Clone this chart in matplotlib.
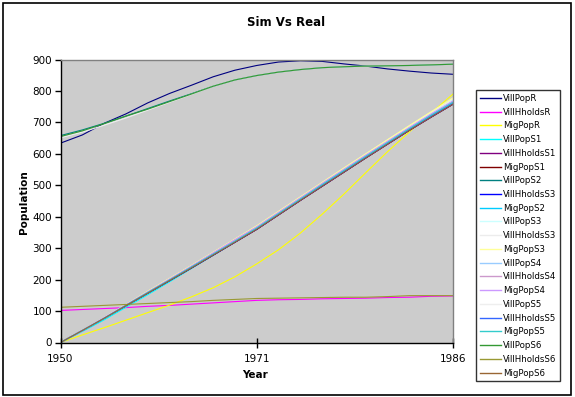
import numpy as np
import matplotlib
matplotlib.use("Agg")
import matplotlib.pyplot as plt
from matplotlib.patches import Rectangle

# Category labels shown on the x axis (first, middle, last)
tick_labels = ["1950", "1971", "1986"]

# Real data
vill_pop_r = [634, 660, 697, 727, 762, 792, 818, 845, 866, 881, 892, 896, 894, 886, 879, 870, 863, 857, 853]
vill_hholds_r = [102, 105, 108, 111, 115, 118, 122, 126, 130, 134, 136, 137, 139, 140, 141, 143, 144, 147, 148]
mig_pop_r = [0, 24, 47, 71, 95, 119, 145, 174, 209, 250, 295, 348, 408, 472, 540, 607, 670, 730, 790]

# Simulated runs
vill_pop_s1 = [0, 35, 72, 112, 152, 193, 235, 277, 319, 361, 407, 454, 500, 546, 591, 636, 680, 723, 765]
vill_hholds_s1 = [0, 38, 77, 117, 157, 197, 237, 278, 319, 360, 406, 452, 497, 542, 587, 631, 675, 717, 758]
mig_pop_s1 = [0, 38, 77, 117, 157, 197, 237, 278, 319, 360, 406, 452, 497, 542, 587, 631, 675, 717, 758]
vill_pop_s2 = [658, 676, 697, 720, 744, 768, 791, 815, 835, 849, 860, 868, 874, 877, 879, 880, 881, 883, 885]
vill_hholds_s2 = [0, 38, 77, 117, 157, 197, 237, 278, 319, 360, 406, 452, 497, 542, 587, 631, 675, 717, 758]
mig_pop_s2 = [0, 37, 76, 117, 158, 199, 240, 282, 324, 365, 411, 457, 503, 548, 593, 638, 682, 725, 768]
vill_pop_s3 = [0, 38, 78, 120, 161, 202, 243, 285, 327, 369, 415, 461, 507, 552, 597, 642, 686, 729, 771]
vill_hholds_s3 = [0, 38, 79, 120, 162, 203, 244, 286, 328, 370, 416, 462, 508, 554, 599, 644, 688, 732, 775]
mig_pop_s3 = [0, 38, 79, 121, 163, 204, 245, 287, 329, 371, 417, 463, 509, 555, 600, 645, 690, 734, 778]
vill_pop_s4 = [0, 38, 78, 119, 160, 200, 241, 283, 324, 366, 412, 458, 503, 548, 593, 637, 681, 724, 765]
vill_hholds_s4 = [0, 38, 78, 119, 160, 201, 242, 284, 326, 367, 413, 459, 505, 550, 595, 639, 683, 726, 767]
mig_pop_s4 = [0, 38, 79, 120, 161, 202, 243, 285, 327, 368, 414, 460, 506, 551, 596, 640, 684, 727, 768]
vill_pop_s5 = [651, 669, 691, 714, 739, 764, 789, 815, 835, 849, 860, 868, 874, 877, 879, 880, 881, 883, 885]
vill_hholds_s5 = [0, 38, 77, 118, 158, 198, 239, 280, 321, 362, 408, 454, 500, 545, 590, 634, 678, 721, 762]
mig_pop_s5 = [0, 38, 77, 118, 159, 199, 240, 281, 322, 364, 410, 456, 502, 547, 592, 636, 680, 723, 764]
vill_pop_s6 = [655, 673, 696, 720, 742, 766, 790, 815, 835, 849, 860, 868, 874, 877, 879, 880, 881, 883, 885]
vill_hholds_s6 = [112, 115, 118, 121, 124, 127, 130, 134, 137, 140, 141, 142, 143, 144, 144, 146, 149, 149, 149]
mig_pop_s6 = [0, 38, 77, 117, 157, 197, 237, 278, 319, 360, 406, 452, 497, 542, 587, 631, 675, 717, 758]

series = [
    ("VillPopR", vill_pop_r, "#000080"),
    ("VillHholdsR", vill_hholds_r, "#ff00ff"),
    ("MigPopR", mig_pop_r, "#ffff00"),
    ("VillPopS1", vill_pop_s1, "#00ffff"),
    ("VillHholdsS1", vill_hholds_s1, "#800080"),
    ("MigPopS1", mig_pop_s1, "#800000"),
    ("VillPopS2", vill_pop_s2, "#008080"),
    ("VillHholdsS3", vill_hholds_s2, "#0000ff"),
    ("MigPopS2", mig_pop_s2, "#00ccff"),
    ("VillPopS3", vill_pop_s3, "#ccffff"),
    ("VillHholdsS3", vill_hholds_s3, "#ececec"),
    ("MigPopS3", mig_pop_s3, "#ffff99"),
    ("VillPopS4", vill_pop_s4, "#99ccff"),
    ("VillHholdsS4", vill_hholds_s4, "#cc99cc"),
    ("MigPopS4", mig_pop_s4, "#cc99ff"),
    ("VillPopS5", vill_pop_s5, "#eeeeee"),
    ("VillHholdsS5", vill_hholds_s5, "#3366ff"),
    ("MigPopS5", mig_pop_s5, "#33cccc"),
    ("VillPopS6", vill_pop_s6, "#339933"),
    ("VillHholdsS6", vill_hholds_s6, "#999933"),
    ("MigPopS6", mig_pop_s6, "#996633"),
]

W, H = 575, 397
fig = plt.figure(figsize=(W / 100, H / 100), dpi=100)
fig.patch.set_facecolor("white")

# chart border
fig.patches.append(Rectangle((3 / W, 2 / H), 568 / W, 392 / H, transform=fig.transFigure,
                             fill=False, edgecolor="black", linewidth=1.2))

left, right, top, bottom = 60.5, 453, 59.5, 342.5
ax = fig.add_axes([left / W, 1 - bottom / H, (right - left) / W, (bottom - top) / H])
ax.set_facecolor("#cccccc")

x = np.arange(len(vill_pop_r))
for name, vals, col in series:
    ax.plot(x, vals, color=col, lw=0.8, label=name)

ax.set_xlim(0, len(x) - 1)
ax.set_ylim(0, 900)
ax.set_yticks(range(0, 901, 100))
ax.set_xticks([0, (len(x) - 1) / 2, len(x) - 1])
ax.set_xticklabels(tick_labels)
ax.tick_params(axis="y", direction="out", length=4, width=1, labelsize=7.5, pad=2)
ax.tick_params(axis="x", direction="inout", length=7, width=1, labelsize=7.5, pad=5)

for s in ["left", "bottom"]:
    ax.spines[s].set_color("black")
    ax.spines[s].set_linewidth(1)
for s in ["top", "right"]:
    ax.spines[s].set_color("#808080")
    ax.spines[s].set_linewidth(1)

fig.text(286 / W, 1 - 23 / H, "Sim Vs Real", ha="center", va="center",
         fontsize=8.5, fontweight="bold")
fig.text(255 / W, 1 - 375 / H, "Year", ha="center", va="center",
         fontsize=7.5, fontweight="bold")
fig.text(24.5 / W, 1 - 202 / H, "Population", ha="center", va="center",
         fontsize=7.5, fontweight="bold", rotation=90)

leg = fig.legend(loc="upper left", bbox_to_anchor=(476 / W, 1 - 90 / H),
                 fontsize=6.2, frameon=True, fancybox=False, borderaxespad=0,
                 handlelength=2.5, handletextpad=0.2, labelspacing=0.55,
                 borderpad=0.45)
leg.get_frame().set_edgecolor("black")
leg.get_frame().set_linewidth(1)
for line in leg.get_lines():
    line.set_linewidth(1.0)

fig.savefig("out.png", dpi=100)
